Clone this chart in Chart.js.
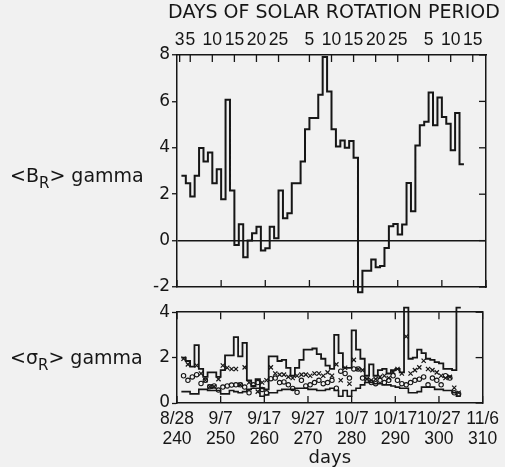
<!DOCTYPE html>
<html><head><meta charset="utf-8">
<script src="https://cdn.jsdelivr.net/npm/chart.js@4.4.0/dist/chart.umd.min.js"></script>
<style>
html,body{margin:0;padding:0;background:#f1f1f1;overflow:hidden;width:505px;height:467px;}
#c1{position:absolute;left:0;top:0;}
#c2{position:absolute;left:0;top:300px;}
</style></head><body>
<canvas id="c1" width="505" height="300"></canvas>
<canvas id="c2" width="505" height="167"></canvas>
<script>
// ---- data ----
const firstDay = 241;
const brValues = [2.79,2.47,1.90,2.79,3.99,3.41,3.80,2.47,3.08,1.78,
  6.07,2.16,-0.19,0.70,-0.72,0.0,0.32,0.6,-0.43,-0.33,
  0.6,0.1,2.16,0.96,1.18,2.47,2.47,3.41,4.8,5.28,
  5.28,6.29,7.91,6.43,4.8,4.06,4.32,4.0,4.29,3.57,
  -2.23,-1.3,-1.3,-0.82,-1.15,-1.1,-0.32,0.62,0.72,0.26,
  0.69,2.48,1.27,4.1,4.97,5.12,6.38,4.97,6.17,5.33,
  5.04,3.89,5.5,3.29];
const sigUpper = [2.0,1.85,1.6,2.55,1.5,1.15,1.35,1.35,1.15,1.45,
  2.1,2.1,2.9,2.05,2.65,1.0,0.75,1.05,0.65,0.6,
  2.05,2.05,1.85,1.9,1.55,1.2,1.55,1.9,2.35,2.35,
  2.4,2.15,1.95,1.65,1.5,3.0,2.2,1.55,1.55,3.2,
  2.35,1.95,1.2,1.7,1.2,1.45,1.5,1.3,1.45,1.5,
  1.35,4.2,1.95,2.0,2.35,2.2,1.95,1.9,1.8,1.75,
  1.5,1.5,1.45,4.2];
const sigLower = [0.5,0.5,0.4,0.4,0.6,0.6,0.55,0.55,0.55,0.4,
  0.4,0.55,0.5,0.45,0.5,0.6,0.65,0.65,0.3,0.35,
  0.45,0.45,0.55,0.6,0.6,0.6,0.65,0.65,0.65,0.6,
  0.6,0.55,0.55,0.6,0.65,0.55,0.3,0.55,0.3,0.55,
  0.65,0.8,0.9,0.9,0.85,0.85,0.8,0.8,0.75,0.7,
  0.65,0.65,0.45,0.45,0.5,0.7,0.7,0.7,0.6,0.6,
  0.55,0.55,0.45,0.3];
const xMarks = [1.95,1.7,null,1.65,1.3,1.0,0.72,0.72,1.05,1.65,
  1.55,1.5,1.5,0.8,1.57,0.9,null,0.5,0.9,1.0,
  1.57,1.3,1.25,1.25,1.15,1.1,1.2,1.25,1.25,1.2,
  1.3,1.3,1.2,1.35,1.2,1.7,1.0,1.55,0.85,1.9,
  1.5,1.45,1.05,1.0,1.05,1.15,1.2,1.1,1.36,1.5,
  1.3,2.93,1.3,1.45,1.57,1.86,1.5,1.45,1.35,1.2,
  1.1,1.15,0.67,0.45];
const oMarks = [1.2,1.0,1.15,1.25,0.86,1.0,0.72,0.75,0.57,0.7,
  0.75,0.79,0.8,0.8,0.7,0.45,0.8,0.9,0.6,0.45,
  1.07,1.1,0.9,0.93,0.8,0.64,0.47,1.0,0.75,0.8,
  0.9,1.0,0.85,0.9,1.0,0.65,1.4,1.3,1.1,1.5,
  1.5,1.1,1.0,0.9,0.85,1.0,0.9,1.0,1.2,1.0,
  0.85,0.8,0.9,1.0,1.05,1.15,0.8,1.1,1.0,0.8,
  1.2,1.1,0.45,0.4];
const dayTicks = [240,250,260,270,280,290,300,310];
const dateLabels = ['8/28','9/7','9/17','9/27','10/7','10/17','10/27','11/6'];
const rotTickDays = [240.6,243,248,253,258,263,270,275,280,285,290,297,302,307];
const rotTickLabels = ['3','5','10','15','20','25','5','10','15','20','25','5','10','15'];
const topTitle = 'DAYS OF SOLAR ROTATION PERIOD';

// ---- helpers ----
const FONT = 'DejaVu Sans';
const NFONT = 'Liberation Sans';
const INK = '#161616';
function stepPoints(vals){
  const pts = vals.map((v,i)=>({x:firstDay+i, y:v}));
  pts.push({x:firstDay+vals.length, y:vals[vals.length-1]});
  return pts;
}
function markPoints(vals){
  return vals.map((v,i)=>({x:firstDay+i+0.5, y:v})).filter(p=>p.y!==null);
}
const border = {display:true, color:INK, width:1.5};

const sideLabel = {
  id:'sideLabel',
  afterDraw(chart, args, o){
    const ctx = chart.ctx; ctx.save(); ctx.fillStyle = INK; ctx.textBaseline = 'alphabetic';
    let x = o.x;
    const parts = [[o.pre, '19px "'+FONT+'"', 0], [o.sub, '15px "'+FONT+'"', 6], [o.post, '19px "'+FONT+'"', 0]];
    for (const [t,f,dy] of parts){ ctx.font = f; ctx.fillText(t, x, o.y+dy); x += ctx.measureText(t).width; }
    if (o.title){
      ctx.font = '19px "'+FONT+'"'; ctx.textAlign = 'center';
      ctx.fillText(o.title, o.titleX, o.titleY);
    }
    ctx.restore();
  }
};
const inTicks = {
  id:'inTicks',
  afterDraw(chart, args, o){
    const {ctx, chartArea:a} = chart; const L = 7;
    ctx.save(); ctx.strokeStyle = INK; ctx.lineWidth = 1.3;
    for (const id of o.scales){
      const s = chart.scales[id];
      for (const t of s.ticks){
        const p = s.getPixelForValue(t.value);
        ctx.beginPath();
        if (s.options.position==='top'){ ctx.moveTo(p,a.top); ctx.lineTo(p,a.top+L); }
        else if (s.options.position==='bottom'){ ctx.moveTo(p,a.bottom); ctx.lineTo(p,a.bottom-L); }
        else { ctx.moveTo(a.right,p); ctx.lineTo(a.right-L,p); }
        ctx.stroke();
      }
    }
    ctx.restore();
  }
};

const common = {responsive:false, animation:false, devicePixelRatio:1, events:[], layout:{padding:0}};

new Chart(document.getElementById('c1'), {
  type:'line',
  data:{datasets:[{data:stepPoints(brValues), stepped:'before', borderColor:INK, borderWidth:2,
    pointRadius:0, clip:false, xAxisID:'x', yAxisID:'y'}]},
  options:Object.assign({}, common, {
    plugins:{legend:{display:false}, tooltip:{enabled:false},
      sideLabel:{pre:'<B', sub:'R', post:'> gamma', x:10, y:182, title:topTitle, titleX:334, titleY:17.5},
      inTicks:{scales:['xTop','x','yRight']}},
    scales:{
      x:{type:'linear', position:'bottom', min:240, max:310,
        ticks:{display:false, stepSize:10}, grid:{display:false, drawTicks:false}, border,
        afterFit:s=>{s.height=13;}},
      xTop:{type:'linear', position:'top', min:240, max:310,
        afterBuildTicks:s=>{s.ticks = rotTickDays.map(v=>({value:v}));},
        ticks:{autoSkip:false, maxRotation:0, minRotation:0, callback:(v,i)=>rotTickLabels[i],
          font:{family:NFONT, size:17.5}, color:INK, padding:4},
        grid:{display:false, drawTicks:false}, border,
        afterFit:s=>{s.height=55;}},
      y:{position:'left', min:-2, max:8,
        ticks:{stepSize:2, font:{family:FONT, size:17}, color:INK, padding:2},
        grid:{color:c=>(c.tick && c.tick.value===0) ? INK : 'rgba(0,0,0,0)', lineWidth:1.5,
          drawTicks:true, tickLength:5, tickColor:INK, tickWidth:1.3},
        border, afterFit:s=>{s.width=177;}},
      yRight:{position:'right', min:-2, max:8, ticks:{display:false, stepSize:2},
        grid:{display:false, drawTicks:false}, border, afterFit:s=>{s.width=19;}}
    }
  }),
  plugins:[sideLabel, inTicks]
});

new Chart(document.getElementById('c2'), {
  type:'line',
  data:{datasets:[
    {data:stepPoints(sigUpper), stepped:'before', borderColor:INK, borderWidth:1.8, pointRadius:0, clip:false},
    {data:stepPoints(sigLower), stepped:'before', borderColor:INK, borderWidth:1.6, pointRadius:0, clip:false},
    {type:'scatter', data:markPoints(xMarks), pointStyle:'crossRot', pointRadius:3, borderColor:INK, borderWidth:1.2, backgroundColor:'rgba(0,0,0,0)', showLine:false},
    {type:'scatter', data:markPoints(oMarks), pointStyle:'circle', pointRadius:2.2, borderColor:INK, borderWidth:1.1, backgroundColor:'rgba(0,0,0,0)', showLine:false}
  ]},
  options:Object.assign({}, common, {
    plugins:{legend:{display:false}, tooltip:{enabled:false},
      sideLabel:{pre:'<σ', sub:'R', post:'> gamma', x:10, y:64},
      inTicks:{scales:['xTop','x','yRight']}},
    scales:{
      x:{type:'linear', position:'bottom', min:240, max:310,
        afterBuildTicks:s=>{s.ticks = dayTicks.map(v=>({value:v}));},
        ticks:{autoSkip:false, maxRotation:0, minRotation:0,
          callback:(v,i)=>[dateLabels[i], String(dayTicks[i])],
          font:{family:NFONT, size:17.5, lineHeight:1.16}, color:INK, padding:6},
        grid:{display:false, drawTicks:false}, border,
        title:{display:true, text:'days', font:{family:FONT, size:18, lineHeight:1}, color:INK, padding:0},
        afterFit:s=>{s.height=64;}},
      xTop:{type:'linear', position:'top', min:240, max:310, ticks:{display:false, stepSize:10},
        grid:{display:false, drawTicks:false}, border, afterFit:s=>{s.height=10;}},
      y:{position:'left', min:0, max:4,
        ticks:{stepSize:2, font:{family:FONT, size:17}, color:INK, padding:2},
        grid:{drawOnChartArea:false, drawTicks:true, tickLength:5, tickColor:INK, tickWidth:1.3},
        border, afterFit:s=>{s.width=177;}},
      yRight:{position:'right', min:0, max:4, ticks:{display:false, stepSize:2},
        grid:{display:false, drawTicks:false}, border, afterFit:s=>{s.width=19;}}
    }
  }),
  plugins:[sideLabel, inTicks]
});
</script>
</body></html>
